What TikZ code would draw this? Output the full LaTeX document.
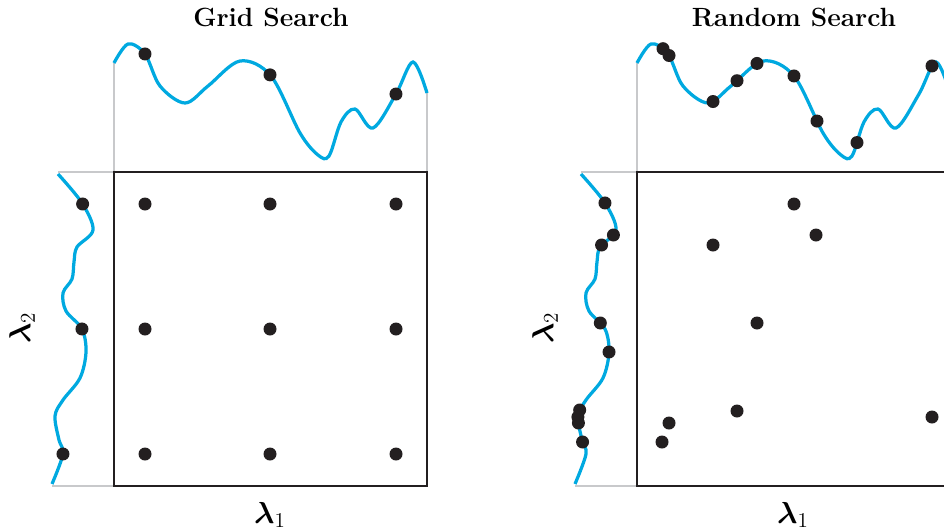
\documentclass[tikz,border=0pt]{standalone}
\usepackage{bm}
\usetikzlibrary{intersections}
\definecolor{curveblue}{RGB}{0,169,224}
\definecolor{dotblack}{RGB}{35,31,32}
\definecolor{guidegray}{RGB}{200,201,203}
\tikzset{
	curve/.style={line width=1.85pt, curveblue},
	guide/.style={line width=1.2pt, guidegray},
	frame/.style={line width=1.4pt, dotblack},
	dot/.style={fill=dotblack},
	titletext/.style={font=\fontsize{15}{18}\selectfont\bfseries},
	axistext/.style={font=\fontsize{18}{20}\selectfont}
}
\newcommand{\topline}{plot[smooth, tension=0.55] coordinates {
  (114,63) (128,44) (145,54) (160,86) (185,103) (208,86) (240,61) (271,76)
  (300,133) (318,155) (329,156) (341,122) (355,109) (373,128) (396,94)
  (413,62) (427,93)}}
\newcommand{\sideline}{plot[smooth, tension=0.55] coordinates {
  (58,174) (82,203) (93,230) (77,247) (74,262) (72,279) (63,293) (66,311)
  (82,329) (86,352) (80,378) (63,400) (55,416) (59,440) (63,454) (52,484)}}
\newcommand{\panelframe}[1]{
  \draw[guide] (114,63) -- (114,172) -- (58,172);
  \draw[guide] (427,93) -- (427,172);
  \draw[guide] (52,486) -- (114,486);
  \draw[curve, name path=top] \topline;
  \draw[curve, name path=side] \sideline;
  \draw[frame] (114,172) rectangle (427,486);
  \node[titletext] (title) at (271,17) {#1};
  \node[axistext] (xlab) at (270,515) {$\bm{\lambda}_1$};
  \node[axistext, rotate=90] (ylab) at (22,328) {$\bm{\lambda}_2$};
}

\begin{document}
\begin{tikzpicture}[x=0.02cm, y=-0.02cm]
  \useasboundingbox (0,0) rectangle (944,531);
  \clip (0,0) rectangle (944,531);
  % grid search
  \begin{scope}
    \panelframe{Grid Search}
    \foreach \x in {145,270,396} {
      \path[name path=vl] (\x,0) -- (\x,200);
      \fill[dot, name intersections={of=top and vl}] (intersection-1) circle[radius=3.7pt];
    }
    \foreach \y in {204,329,454} {
      \path[name path=hl] (0,\y) -- (140,\y);
      \fill[dot, name intersections={of=side and hl}] (intersection-1) circle[radius=3.7pt];
    }
    \foreach \x in {145,270,396}
      \foreach \y in {204,329,454}
        \fill[dot] (\x,\y) circle[radius=3.7pt];
  \end{scope}
  % random search
  \begin{scope}[shift={(523,0)}]
    \panelframe{Random Search}
    \foreach \x in {140,146,190,214,234,271,294,334,409} {
      \path[name path=vl] (\x,0) -- (\x,200);
      \fill[dot, name intersections={of=top and vl}] (intersection-1) circle[radius=3.7pt];
    }
    \foreach \y in {203,235,245,323,352,410,417,423,442} {
      \path[name path=hl] (0,\y) -- (140,\y);
      \fill[dot, name intersections={of=side and hl}] (intersection-1) circle[radius=3.7pt];
    }
    \foreach \x/\y in {139/442, 146/423, 190/245, 214/411, 234/323, 271/204, 293/235, 409/417}
      \fill[dot] (\x,\y) circle[radius=3.7pt];
  \end{scope}
\end{tikzpicture}
\end{document}
